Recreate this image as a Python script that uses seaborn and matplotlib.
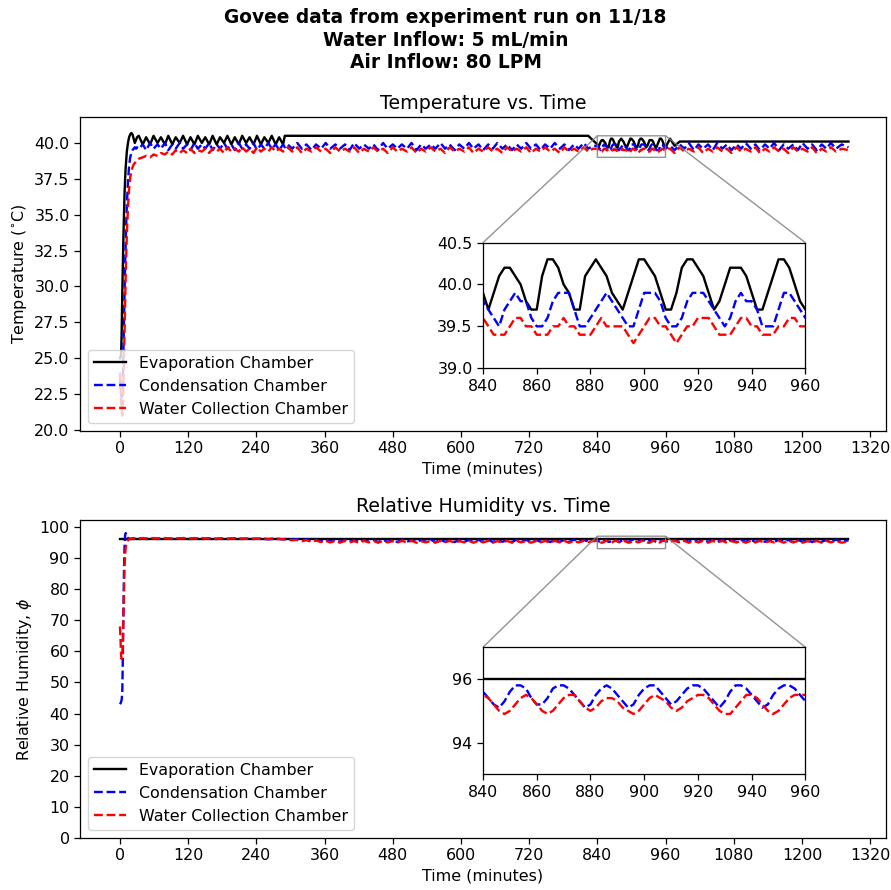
import matplotlib
matplotlib.use("Agg")
import matplotlib.pyplot as plt
import seaborn as sns
import pandas as pd

# ---------------- data ----------------
time_min = [
    0, 1, 2, 3, 4, 5, 6, 7, 8, 9, 10, 11, 12, 14, 16, 18, 20, 22, 24, 26, 28, 30,
    33, 40, 46, 53, 59, 66, 72, 79, 85, 92, 98, 105, 111, 118, 124, 131, 137, 144, 150, 157,
    163, 170, 176, 183, 189, 196, 202, 209, 215, 222, 228, 235, 241, 248, 254, 261, 267, 274, 280, 287,
    290, 295, 303, 312, 320, 328, 337, 345, 354, 362, 370, 379, 387, 396, 404, 412, 421, 429, 438, 446,
    454, 463, 471, 480, 488, 496, 505, 513, 522, 530, 538, 547, 555, 564, 572, 580, 589, 597, 606, 614,
    622, 631, 639, 648, 656, 664, 673, 681, 690, 698, 706, 715, 723, 732, 740, 748, 757, 765, 774, 782,
    790, 799, 807, 816, 824, 832,
    840, 842, 844, 846, 848, 850, 852, 854, 856, 858, 860, 862, 864, 866, 868, 870, 872, 874, 876, 878,
    880, 882, 884, 886, 888, 890, 892, 894, 896, 898, 900, 902, 904, 906, 908, 910, 912, 914, 916, 918,
    920, 922, 924, 926, 928, 930, 932, 934, 936, 938, 940, 942, 944, 946, 948, 950, 952, 954, 956, 958, 960,
    968, 976, 985, 993, 1001, 1010, 1018, 1026, 1035, 1043, 1051, 1060, 1068, 1076, 1085, 1093, 1101, 1110,
    1118, 1126, 1135, 1143, 1151, 1160, 1168, 1176, 1185, 1193, 1201, 1210, 1218, 1226, 1235, 1243, 1251,
    1260, 1270, 1282,
]

evap_temp = [
    25.0, 25.1, 25.3, 27.0, 29.5, 31.5, 33.5, 35.0, 36.5, 37.5, 38.3, 38.9, 39.4, 40.0, 40.4, 40.6, 40.7, 40.6, 40.3, 40.0, 40.2, 40.4,
    40.5, 39.9, 40.4, 39.9, 40.5, 40.0, 40.4, 39.9, 40.5, 39.9, 40.4, 40.0, 40.5, 39.9, 40.4, 39.9, 40.5, 40.0, 40.4, 39.9,
    40.5, 39.9, 40.4, 40.0, 40.5, 39.9, 40.4, 39.9, 40.5, 40.0, 40.4, 39.9, 40.5, 39.9, 40.4, 40.0, 40.5, 39.9, 40.4, 39.9,
    40.5, 40.5, 40.5, 40.5, 40.5, 40.5, 40.5, 40.5, 40.5, 40.5, 40.5, 40.5, 40.5, 40.5, 40.5, 40.5, 40.5, 40.5, 40.5, 40.5,
    40.5, 40.5, 40.5, 40.5, 40.5, 40.5, 40.5, 40.5, 40.5, 40.5, 40.5, 40.5, 40.5, 40.5, 40.5, 40.5, 40.5, 40.5, 40.5, 40.5,
    40.5, 40.5, 40.5, 40.5, 40.5, 40.5, 40.5, 40.5, 40.5, 40.5, 40.5, 40.5, 40.5, 40.5, 40.5, 40.5, 40.5, 40.5, 40.5, 40.5,
    40.5, 40.5, 40.5, 40.5, 40.5, 40.2,
    39.9, 39.7, 39.9, 40.1, 40.2, 40.2, 40.1, 40.0, 39.8, 39.7, 39.7, 40.1, 40.3, 40.3, 40.2, 40.0, 39.9, 39.7, 39.7, 40.1,
    40.2, 40.3, 40.2, 40.1, 39.9, 39.8, 39.7, 39.9, 40.1, 40.3, 40.3, 40.2, 40.1, 39.9, 39.7, 39.7, 39.9, 40.2, 40.3, 40.3,
    40.2, 40.1, 39.9, 39.7, 39.8, 40.0, 40.2, 40.2, 40.2, 40.1, 39.9, 39.7, 39.7, 39.9, 40.1, 40.3, 40.3, 40.2, 40.0, 39.8, 39.7,
    40.3, 39.8, 40.1, 40.1, 40.1, 40.1, 40.1, 40.1, 40.1, 40.1, 40.1, 40.1, 40.1, 40.1, 40.1, 40.1, 40.1, 40.1,
    40.1, 40.1, 40.1, 40.1, 40.1, 40.1, 40.1, 40.1, 40.1, 40.1, 40.1, 40.1, 40.1, 40.1, 40.1, 40.1, 40.1,
    40.1, 40.1, 40.1,
]

cond_temp = [
    23.5, 23.0, 22.6, 22.3, 22.5, 23.5, 25.5, 27.5, 29.5, 31.5, 33.0, 34.5, 35.6, 37.3, 38.4, 39.0, 39.3, 39.5, 39.6, 39.7, 39.6, 39.7,
    39.6, 39.9, 39.5, 40.0, 39.6, 39.9, 39.6, 40.0, 39.5, 39.9, 39.6, 40.0, 39.6, 39.9, 39.5, 40.0, 39.6, 39.9, 39.6, 40.0,
    39.5, 39.9, 39.6, 40.0, 39.6, 39.9, 39.5, 40.0, 39.6, 39.9, 39.6, 40.0, 39.5, 39.9, 39.6, 40.0, 39.6, 39.9, 39.5, 39.9,
    39.7, 39.9, 39.6, 40.0, 39.6, 39.9, 39.5, 39.9, 39.6, 40.0, 39.6, 39.9, 39.6, 39.9, 39.5, 40.0, 39.6, 39.9, 39.6, 39.9,
    39.5, 40.0, 39.6, 39.9, 39.6, 39.9, 39.6, 40.0, 39.5, 39.9, 39.6, 39.9, 39.6, 40.0, 39.6, 39.9, 39.5, 39.9, 39.6, 40.0,
    39.6, 39.9, 39.5, 39.9, 39.6, 40.0, 39.6, 39.9, 39.5, 39.9, 39.6, 40.0, 39.6, 39.9, 39.5, 39.9, 39.6, 40.0, 39.6, 39.9,
    39.5, 39.9, 39.6, 40.0, 39.6, 39.8,
    39.8, 39.7, 39.6, 39.5, 39.7, 39.8, 39.9, 39.8, 39.8, 39.6, 39.5, 39.5, 39.6, 39.8, 39.9, 39.9, 39.9, 39.7, 39.5, 39.5,
    39.6, 39.7, 39.8, 39.9, 39.8, 39.7, 39.6, 39.5, 39.5, 39.7, 39.9, 39.9, 39.9, 39.8, 39.6, 39.5, 39.5, 39.6, 39.8, 39.9,
    39.9, 39.9, 39.8, 39.7, 39.6, 39.5, 39.6, 39.8, 39.9, 39.8, 39.8, 39.7, 39.5, 39.5, 39.5, 39.7, 39.9, 39.9, 39.8, 39.7, 39.6,
    39.8, 39.5, 39.9, 39.6, 40.0, 39.5, 39.9, 39.6, 39.9, 39.5, 40.0, 39.6, 39.9, 39.5, 39.9, 39.6, 40.0, 39.6,
    39.9, 39.5, 39.9, 39.6, 40.0, 39.5, 39.9, 39.6, 39.9, 39.5, 40.0, 39.6, 39.9, 39.5, 39.9, 39.6, 40.0,
    39.6, 39.9, 39.7,
]

coll_temp = [
    24.0, 23.0, 22.0, 21.3, 21.0, 21.5, 23.0, 25.0, 27.0, 29.0, 30.8, 32.3, 33.6, 35.5, 36.8, 37.6, 38.0, 38.3, 38.5, 38.6, 38.7, 38.8,
    38.9, 39.0, 39.1, 39.0, 39.2, 39.1, 39.3, 39.2, 39.4, 39.2, 39.5, 39.3, 39.5, 39.3, 39.6, 39.3, 39.5, 39.4, 39.6, 39.3,
    39.6, 39.4, 39.6, 39.3, 39.7, 39.4, 39.6, 39.4, 39.7, 39.4, 39.6, 39.3, 39.7, 39.4, 39.6, 39.4, 39.7, 39.4, 39.6, 39.4,
    39.5, 39.7, 39.4, 39.7, 39.3, 39.6, 39.4, 39.7, 39.4, 39.6, 39.3, 39.7, 39.4, 39.6, 39.4, 39.7, 39.3, 39.6, 39.4, 39.7,
    39.4, 39.6, 39.3, 39.7, 39.4, 39.6, 39.4, 39.7, 39.3, 39.6, 39.4, 39.7, 39.4, 39.6, 39.3, 39.7, 39.4, 39.6, 39.4, 39.7,
    39.3, 39.6, 39.4, 39.7, 39.4, 39.6, 39.3, 39.7, 39.4, 39.6, 39.4, 39.7, 39.3, 39.6, 39.4, 39.7, 39.4, 39.6, 39.3, 39.7,
    39.4, 39.6, 39.4, 39.7, 39.4, 39.6,
    39.6, 39.5, 39.4, 39.4, 39.4, 39.5, 39.6, 39.6, 39.5, 39.5, 39.4, 39.4, 39.4, 39.5, 39.5, 39.6, 39.5, 39.5, 39.4, 39.4,
    39.4, 39.5, 39.6, 39.5, 39.5, 39.5, 39.5, 39.4, 39.3, 39.4, 39.5, 39.6, 39.6, 39.5, 39.5, 39.4, 39.3, 39.4, 39.5, 39.5,
    39.6, 39.6, 39.6, 39.5, 39.4, 39.4, 39.4, 39.5, 39.6, 39.6, 39.5, 39.5, 39.4, 39.4, 39.4, 39.5, 39.5, 39.6, 39.6, 39.5, 39.5,
    39.6, 39.3, 39.7, 39.4, 39.6, 39.4, 39.7, 39.3, 39.6, 39.4, 39.7, 39.4, 39.6, 39.3, 39.7, 39.4, 39.6, 39.4,
    39.7, 39.3, 39.6, 39.4, 39.7, 39.4, 39.6, 39.3, 39.7, 39.4, 39.6, 39.4, 39.7, 39.3, 39.6, 39.4, 39.7,
    39.4, 39.6, 39.5,
]

cond_rh = [
    43.0, 43.3, 43.8, 44.5, 47.0, 58.0, 73.0, 86.0, 94.0, 97.2, 98.0, 97.6, 96.9, 96.4, 96.2, 96.1, 96.1, 96.2, 96.1, 96.2, 96.1, 96.2,
    96.1, 96.2, 96.1, 96.2, 96.2, 96.1, 96.2, 96.3, 96.2, 96.1, 96.2, 96.2, 96.3, 96.2, 96.1, 96.2, 96.2, 96.1, 96.2, 96.3,
    96.2, 96.1, 96.2, 96.2, 96.1, 96.2, 96.3, 96.2, 96.1, 96.2, 96.2, 96.1, 96.2, 96.2, 96.1, 96.0, 96.1, 96.2, 96.1, 96.0,
    96.1, 96.0, 95.9, 96.0, 95.7, 96.0, 95.5, 95.9, 95.4, 95.9, 95.3, 95.8, 95.2, 95.9, 95.2, 95.8, 95.1, 95.8, 95.2, 95.9,
    95.1, 95.8, 95.2, 95.8, 95.1, 95.9, 95.2, 95.8, 95.1, 95.8, 95.2, 95.9, 95.1, 95.8, 95.2, 95.8, 95.1, 95.9, 95.2, 95.8,
    95.1, 95.8, 95.2, 95.9, 95.1, 95.8, 95.2, 95.8, 95.1, 95.9, 95.2, 95.8, 95.1, 95.8, 95.2, 95.9, 95.1, 95.8, 95.2, 95.8,
    95.1, 95.9, 95.2, 95.8, 95.3, 95.7,
    95.6, 95.4, 95.2, 95.1, 95.3, 95.6, 95.8, 95.8, 95.7, 95.4, 95.2, 95.2, 95.4, 95.7, 95.8, 95.8, 95.7, 95.5, 95.3, 95.1,
    95.2, 95.5, 95.7, 95.8, 95.7, 95.5, 95.3, 95.1, 95.2, 95.5, 95.7, 95.8, 95.8, 95.6, 95.4, 95.2, 95.3, 95.5, 95.7, 95.8,
    95.8, 95.7, 95.5, 95.3, 95.1, 95.3, 95.6, 95.8, 95.8, 95.7, 95.5, 95.3, 95.1, 95.2, 95.5, 95.7, 95.8, 95.8, 95.7, 95.5, 95.3,
    95.4, 95.8, 95.1, 95.8, 95.2, 95.9, 95.1, 95.8, 95.2, 95.8, 95.1, 95.9, 95.2, 95.8, 95.1, 95.8, 95.2, 95.9,
    95.1, 95.8, 95.2, 95.8, 95.1, 95.9, 95.2, 95.8, 95.1, 95.8, 95.2, 95.9, 95.1, 95.8, 95.2, 95.8, 95.1,
    95.9, 95.2, 95.7,
]

coll_rh = [
    68.0, 63.0, 58.5, 57.5, 58.5, 63.0, 71.0, 80.0, 87.0, 91.0, 93.2, 94.4, 95.1, 95.7, 96.0, 96.2, 96.3, 96.3, 96.4, 96.3, 96.3, 96.4,
    96.3, 96.4, 96.3, 96.3, 96.4, 96.3, 96.4, 96.4, 96.3, 96.3, 96.4, 96.3, 96.4, 96.3, 96.3, 96.4, 96.3, 96.4, 96.3, 96.3,
    96.3, 96.2, 96.3, 96.3, 96.2, 96.3, 96.2, 96.3, 96.2, 96.2, 96.3, 96.2, 96.2, 96.1, 96.2, 96.1, 96.2, 96.1, 96.1, 96.0,
    96.0, 95.9, 95.7, 95.8, 95.4, 95.7, 95.2, 95.6, 95.1, 95.5, 95.0, 95.5, 94.9, 95.5, 95.0, 95.4, 94.9, 95.5, 95.0, 95.5,
    94.9, 95.5, 95.0, 95.4, 94.9, 95.5, 95.0, 95.5, 94.9, 95.4, 95.0, 95.5, 94.9, 95.5, 95.0, 95.5, 94.9, 95.4, 95.0, 95.5,
    94.9, 95.5, 95.0, 95.5, 94.9, 95.4, 95.0, 95.5, 94.9, 95.5, 95.0, 95.5, 94.9, 95.4, 95.0, 95.5, 94.9, 95.5, 95.0, 95.5,
    94.9, 95.4, 95.0, 95.5, 95.1, 95.4,
    95.5, 95.4, 95.2, 95.0, 94.9, 95.0, 95.2, 95.4, 95.5, 95.4, 95.2, 95.0, 94.9, 95.0, 95.2, 95.4, 95.5, 95.5, 95.3, 95.1,
    95.0, 95.1, 95.3, 95.4, 95.4, 95.3, 95.1, 95.0, 94.9, 95.0, 95.2, 95.4, 95.5, 95.4, 95.3, 95.1, 95.0, 95.1, 95.3, 95.4,
    95.5, 95.5, 95.4, 95.2, 95.0, 94.9, 94.9, 95.1, 95.3, 95.5, 95.5, 95.4, 95.2, 95.0, 94.9, 95.0, 95.2, 95.4, 95.5, 95.5, 95.5,
    95.3, 95.5, 95.0, 95.5, 94.9, 95.4, 95.0, 95.5, 94.9, 95.5, 95.0, 95.5, 94.9, 95.4, 95.0, 95.5, 94.9, 95.5,
    95.0, 95.5, 94.9, 95.4, 95.0, 95.5, 94.9, 95.5, 95.0, 95.5, 94.9, 95.4, 95.0, 95.5, 94.9, 95.5, 95.0,
    95.5, 94.9, 95.3,
]

# evaporation chamber RH is a flat line at 96 % over the whole run
evap_rh_time = [0, 1282]
evap_rh = [96.0, 96.0]

labels = ["Evaporation Chamber", "Condensation Chamber", "Water Collection Chamber"]
xticks = [0, 120, 240, 360, 480, 600, 720, 840, 960, 1080, 1200, 1320]

temp_df = pd.DataFrame({"time": time_min, "evap": evap_temp, "cond": cond_temp, "coll": coll_temp})
rh_df = pd.DataFrame({"time": time_min, "cond": cond_rh, "coll": coll_rh})
evap_rh_df = pd.DataFrame({"time": evap_rh_time, "evap": evap_rh})

# ---------------- style ----------------
S = 1.14  # overall scale of the reference rendering
plt.rcParams.update({
    "font.size": 10 * S,
    "axes.titlesize": 12 * S,
    "lines.linewidth": 1.5 * S,
    "axes.linewidth": 0.8 * S,
    "xtick.major.size": 3.5 * S,
    "ytick.major.size": 3.5 * S,
    "xtick.major.width": 0.8 * S,
    "ytick.major.width": 0.8 * S,
})

# ---------------- figure ----------------
W, H = 891, 890
fig = plt.figure(figsize=(W / 100, H / 100), dpi=100)
ax1 = fig.add_axes([80 / W, 1 - 431 / H, (886 - 80) / W, (431 - 117) / H])
ax2 = fig.add_axes([80 / W, 1 - 838 / H, (886 - 80) / W, (838 - 520) / H])

fig.suptitle("Govee data from experiment run on 11/18\nWater Inflow: 5 mL/min\nAir Inflow: 80 LPM",
             fontweight="bold", fontsize=13.4, y=1 - 8 / H, linespacing=1.25)


def draw_temp(ax, legend):
    sns.lineplot(data=temp_df, x="time", y="evap", ax=ax, color="k", linestyle="-",
                 label=labels[0] if legend else None, estimator=None, sort=False)
    sns.lineplot(data=temp_df, x="time", y="cond", ax=ax, color="b", linestyle="--",
                 label=labels[1] if legend else None, estimator=None, sort=False)
    sns.lineplot(data=temp_df, x="time", y="coll", ax=ax, color="r", linestyle="--",
                 label=labels[2] if legend else None, estimator=None, sort=False)


def draw_rh(ax, legend):
    sns.lineplot(data=evap_rh_df, x="time", y="evap", ax=ax, color="k", linestyle="-",
                 label=labels[0] if legend else None, estimator=None, sort=False)
    sns.lineplot(data=rh_df, x="time", y="cond", ax=ax, color="b", linestyle="--",
                 label=labels[1] if legend else None, estimator=None, sort=False)
    sns.lineplot(data=rh_df, x="time", y="coll", ax=ax, color="r", linestyle="--",
                 label=labels[2] if legend else None, estimator=None, sort=False)


def mark_zoom(ax, ins):
    ind = ax.indicate_inset_zoom(ins, edgecolor="0.5", alpha=0.85)
    try:
        conns = ind.connectors
    except AttributeError:
        conns = ind[1]
    for i, c in enumerate(conns):
        c.set_visible(i in (1, 3))


XLIM = (-70.4, 1348)

# Temperature panel
draw_temp(ax1, True)
ax1.set_xlim(*XLIM)
ax1.set_ylim(19.93, 41.81)
ax1.set_xticks(xticks)
ax1.set_title("Temperature vs. Time")
ax1.set_xlabel("Time (minutes)")
ax1.set_ylabel(r"Temperature ($^{\circ}$C)")
ax1.legend(loc="lower left")

ins1 = ax1.inset_axes([0.5, 0.2, 0.4, 0.4])
draw_temp(ins1, False)
ins1.set_xlim(840, 960)
ins1.set_ylim(39.0, 40.5)
ins1.set_xticks([840, 860, 880, 900, 920, 940, 960])
ins1.set_yticks([39.0, 39.5, 40.0, 40.5])
ins1.set_xlabel("")
ins1.set_ylabel("")
mark_zoom(ax1, ins1)

# Relative humidity panel
draw_rh(ax2, True)
ax2.set_xlim(*XLIM)
ax2.set_ylim(0, 102.2)
ax2.set_xticks(xticks)
ax2.set_yticks(range(0, 101, 10))
ax2.set_title("Relative Humidity vs. Time")
ax2.set_xlabel("Time (minutes)")
ax2.set_ylabel(r"Relative Humidity, $\phi$")
ax2.legend(loc="lower left")

ins2 = ax2.inset_axes([0.5, 0.2, 0.4, 0.4])
draw_rh(ins2, False)
ins2.set_xlim(840, 960)
ins2.set_ylim(93, 97)
ins2.set_xticks([840, 860, 880, 900, 920, 940, 960])
ins2.set_yticks([94, 96])
ins2.set_xlabel("")
ins2.set_ylabel("")
mark_zoom(ax2, ins2)

fig.savefig("out.png", dpi=100)
